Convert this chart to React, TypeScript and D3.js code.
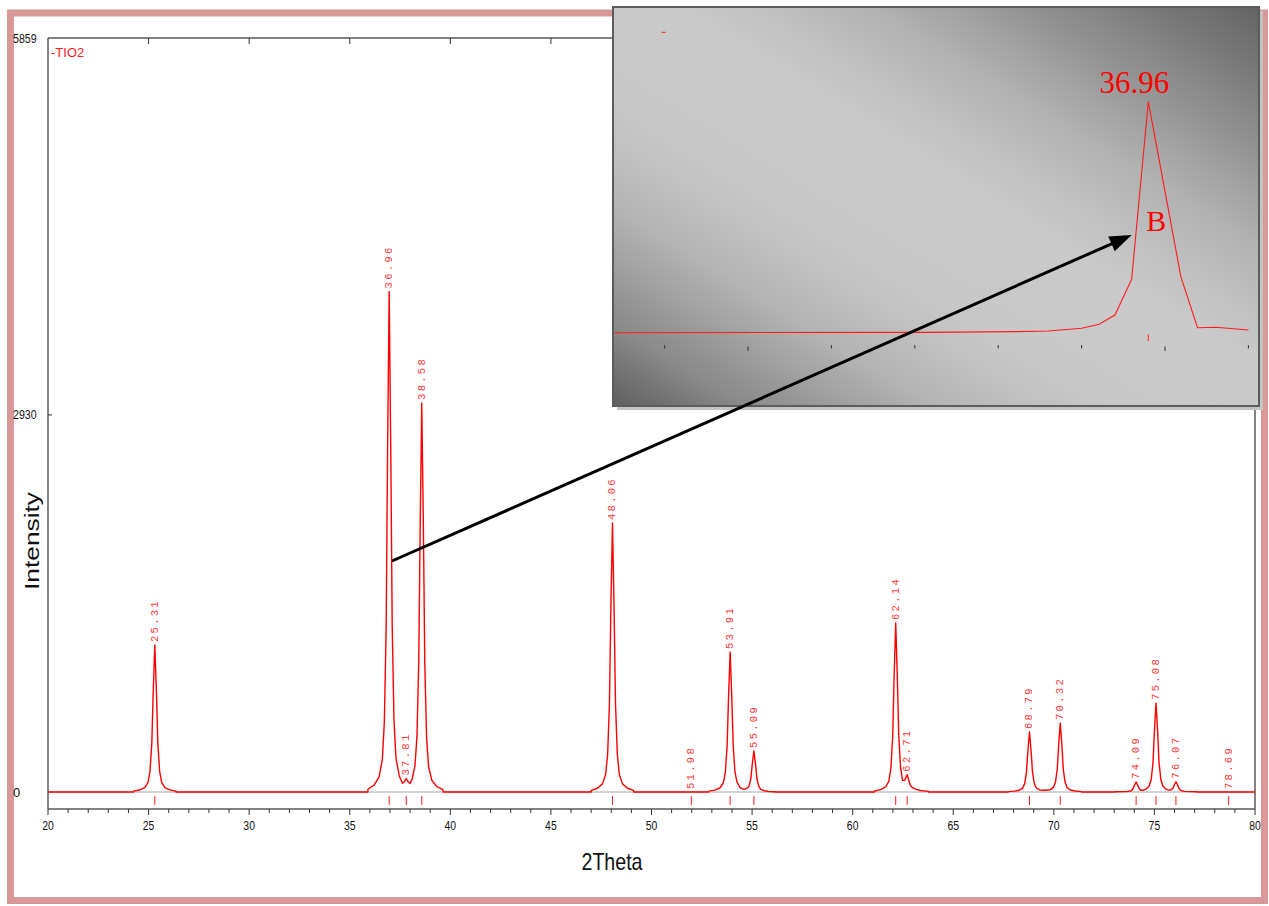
import React from "react";
import * as d3 from "d3";

// ---------- data ----------
const xDomain = [20, 80];
const yDomain = [0, 5859];
const yTickValues = [0, 2930, 5859];
const xTickValues = d3.range(20, 81, 1);

const peakPositions = [25.31, 36.96, 37.81, 38.58, 48.06, 51.98, 53.91, 55.09, 62.14, 62.71, 68.79, 70.32, 74.09, 75.08, 76.07, 78.69];
const peakLabels = ["25.31", "36.96", "37.81", "38.58", "48.06", "51.98", "53.91", "55.09", "62.14", "62.71", "68.79", "70.32", "74.09", "75.08", "76.07", "78.69"];
const peakTops = [1142, 3890, 105, 3023, 2090, 0, 1088, 319, 1313, 135, 466, 536, 78, 692, 80, 0];

// measured profile (2theta, counts), peak groups
const group25: [number, number][] = [[24.25,0],[24.26,7],[24.56,16],[24.81,34],[24.97,74],[25.07,160],[25.16,377],[25.23,777],[25.31,1142],[25.39,777],[25.46,377],[25.55,160],[25.65,74],[25.81,34],[26.06,16],[26.36,7],[26.37,0]];
const group37: [number, number][] = [[35.9,0],[35.91,23],[36.21,54],[36.46,117],[36.62,253],[36.72,545],[36.81,1284],[36.88,2645],[36.96,3890],[37.04,2645],[37.11,1290],[37.2,552],[37.3,262],[37.46,125],[37.62,68],[37.72,80],[37.81,105],[37.9,80],[38.0,66],[38.1,100],[38.24,201],[38.34,428],[38.43,1003],[38.5,2058],[38.58,3023],[38.66,2056],[38.73,998],[38.82,423],[38.92,196],[39.08,91],[39.33,42],[39.63,18],[39.64,0]];
const group48: [number, number][] = [[47.0,0],[47.01,13],[47.31,29],[47.56,63],[47.72,136],[47.82,293],[47.91,690],[47.98,1421],[48.06,2090],[48.14,1421],[48.21,690],[48.3,293],[48.4,136],[48.56,63],[48.81,29],[49.11,13],[49.12,0]];
const group54: [number, number][] = [[52.85,0],[52.86,7],[53.16,15],[53.41,33],[53.57,71],[53.67,152],[53.76,359],[53.83,740],[53.91,1088],[53.99,740],[54.06,361],[54.15,156],[54.25,76],[54.41,32],[54.6,20],[54.75,30],[54.85,45],[54.94,105],[55.01,217],[55.09,319],[55.17,217],[55.24,105],[55.33,45],[55.43,21],[55.59,10],[55.84,4],[56.14,2],[56.15,0]];
const group62: [number, number][] = [[61.08,0],[61.09,8],[61.39,18],[61.64,39],[61.8,85],[61.9,184],[61.99,433],[62.06,893],[62.14,1313],[62.22,893],[62.29,440],[62.38,192],[62.48,90],[62.58,90],[62.65,115],[62.71,135],[62.78,95],[62.86,55],[62.96,35],[63.12,22],[63.37,12],[63.77,5],[63.78,0]];
const group69: [number, number][] = [[67.74,0],[67.75,3],[68.04,7],[68.29,14],[68.45,30],[68.55,65],[68.64,154],[68.71,317],[68.79,466],[68.87,317],[68.94,154],[69.03,65],[69.13,31],[69.29,16],[69.55,14],[69.82,18],[69.98,36],[70.08,75],[70.17,177],[70.24,364],[70.32,536],[70.4,364],[70.47,177],[70.56,75],[70.66,35],[70.82,16],[71.07,8],[71.37,3],[71.38,0]];
const group75: [number, number][] = [[73.03,0],[73.04,2],[73.6,3],[73.85,10],[73.94,27],[74.01,53],[74.09,78],[74.17,53],[74.24,28],[74.33,14],[74.45,14],[74.58,22],[74.74,46],[74.84,97],[74.93,228],[75.0,471],[75.08,692],[75.16,471],[75.23,228],[75.32,97],[75.42,46],[75.58,22],[75.7,15],[75.83,18],[75.92,30],[75.99,55],[76.07,80],[76.15,55],[76.22,28],[76.31,12],[76.5,5],[76.8,3],[77.12,2],[77.13,0]];

// inset (zoom on the 36.96 reflection)
const insetTheta = [36.34, 36.716, 36.819, 36.86, 36.9, 36.921, 36.94, 36.96, 36.98, 37.019, 37.039, 37.061, 37.1];
const insetCounts = [22, 28, 39, 50, 95, 162, 318, 916, 3890, 960, 105, 112, 67];
const insetTicks = [36.4, 36.5, 36.6, 36.7, 36.8, 36.9, 37.0, 37.1];
const insetMajorTicks = [36.5, 37.0];
const insetPeak = 36.98;
const insetPeakLabel = "36.96";
const insetLetter = "B";

// arrow: from main pattern point to inset point
const arrowFrom = [37.1, 1795];
const arrowTo = [36.96, 1658];

const legendText = "-TIO2";
const xTitle = "2Theta";
const yTitle = "Intensity";

export default function App() {
  const W = 1269, H = 906;
  const x = d3.scaleLinear().domain(xDomain).range([48, 1255]);
  const y = d3.scaleLinear().domain(yDomain).range([792, 38]);
  const ix = d3.scaleLinear().domain([36.5, 37.0]).range([748, 1165]);
  const iy = d3.scaleLinear().domain([0, 3890]).range([334, 101.7]);

  const profile: [number, number][] = [
    [20, 0], ...group25, ...group37, ...group48, ...group54, ...group62, ...group69, ...group75, [80, 0],
  ];
  const line = d3.line<[number, number]>().x(d => x(d[0])).y(d => y(d[1]));
  const insetLine = d3.line<number>().x((_, i) => ix(insetTheta[i])).y((_, i) => iy(insetCounts[i]));

  const x0 = x(20), x1 = x(80), yTop = y(5859), yBase = y(0), yAxis = 809;

  // arrow geometry
  const ax0 = x(arrowFrom[0]), ay0 = y(arrowFrom[1]);
  const ax1 = ix(arrowTo[0]), ay1 = iy(arrowTo[1]);
  const len = Math.hypot(ax1 - ax0, ay1 - ay0);
  const ux = (ax1 - ax0) / len, uy = (ay1 - ay0) / len;
  const headL = 22, headW = 8;
  const bx = ax1 - ux * headL, by = ay1 - uy * headL;
  const head = `${ax1},${ay1} ${bx - uy * headW},${by + ux * headW} ${bx + uy * headW},${by - ux * headW}`;

  const insetX = 613, insetY = 7, insetW = 646, insetH = 399;
  const tipX = ix(insetPeak), tipY = iy(3890);

  const sans = "'Liberation Sans', Arial, sans-serif";

  return (
    <svg width={W} height={H} style={{ position: "absolute", left: 0, top: 0, background: "#fff" }}>
      <defs>
        <linearGradient id="insetGrad" x1="0" y1="1" x2="1" y2="0">
          <stop offset="0" stopColor="#5e5e5e" />
          <stop offset="0.1" stopColor="#898989" />
          <stop offset="0.25" stopColor="#b4b4b4" />
          <stop offset="0.38" stopColor="#c8c8c8" />
          <stop offset="0.55" stopColor="#cacaca" />
          <stop offset="0.7" stopColor="#b2b2b2" />
          <stop offset="0.85" stopColor="#8a8a8a" />
          <stop offset="1" stopColor="#636363" />
        </linearGradient>
      </defs>
      <rect x={0} y={0} width={W} height={H} fill="#fff" />
      {/* pink outer frame */}
      <rect x={10.5} y={13} width={1254} height={887.5} fill="none" stroke="#d99797" strokeWidth={7} />

      {/* zero line */}
      <line x1={x0} x2={x1} y1={yBase} y2={yBase} stroke="#a8a8a8" strokeWidth={1.2} />

      {/* plot frame */}
      <g stroke="#5a5a5a" strokeWidth={1.5} fill="none">
        <line x1={x0} x2={x0} y1={yTop} y2={yAxis} />
        <line x1={x1} x2={x1} y1={yTop} y2={yAxis} />
        <line x1={x0} x2={x1} y1={yTop} y2={yTop} />
        <line x1={x0} x2={x1} y1={yAxis} y2={yAxis} />
      </g>

      {/* x ticks */}
      <g stroke="#333" strokeWidth={1}>
        {xTickValues.map(v => (
          <line key={v} x1={x(v)} x2={x(v)} y1={yAxis} y2={yAxis + (v % 5 === 0 ? 6 : 4)} />
        ))}
        {xTickValues.filter(v => v % 5 === 0 && v > 20 && v < 80).map(v => (
          <line key={"t" + v} x1={x(v)} x2={x(v)} y1={yTop} y2={yTop + 6} />
        ))}
        <line x1={x0} x2={x0 + 4} y1={y(2930)} y2={y(2930)} />
      </g>
      <g fontFamily={sans} fontSize={13} fill="#111">
        {xTickValues.filter(v => v % 5 === 0).map(v => (
          <text key={v} x={x(v)} y={yAxis + 21} textAnchor="middle" textLength={String(v).length * 5.8} lengthAdjust="spacingAndGlyphs">{v}</text>
        ))}
        {yTickValues.map(v => (
          <text key={v} x={13} y={y(v) + 4.5} textAnchor="start"
            {...(String(v).length > 1 ? { textLength: String(v).length * 5.9, lengthAdjust: "spacingAndGlyphs" } : {})}>{v}</text>
        ))}
      </g>

      {/* axis titles */}
      <text x={612} y={870} textAnchor="middle" fontFamily={sans} fontSize={24} fill="#111" textLength={61} lengthAdjust="spacingAndGlyphs">{xTitle}</text>
      <text transform={`translate(39,541) rotate(-90)`} textAnchor="middle" fontFamily={sans} fontSize={20} fill="#111" textLength={98} lengthAdjust="spacingAndGlyphs">{yTitle}</text>

      {/* legend */}
      <text x={51} y={56.5} fontFamily={sans} fontSize={13} fill="#ff2020">{legendText}</text>

      {/* reference ticks */}
      <g stroke="#ff2020" strokeWidth={1}>
        {peakPositions.map(p => (
          <line key={p} x1={x(p)} x2={x(p)} y1={yBase + 4} y2={yBase + 13} />
        ))}
      </g>

      {/* pattern */}
      <path d={line(profile) || ""} fill="none" stroke="#ff0000" strokeWidth={1.4} strokeLinejoin="round" />

      {/* peak labels */}
      <g fontFamily="'Liberation Mono', 'DejaVu Sans Mono', monospace" fontSize={10.5} fill="#ff3a3a">
        {peakPositions.map((p, i) => (
          <text key={p} transform={`translate(${x(p)},${y(peakTops[i]) - 3}) rotate(-90)`} textAnchor="start" dominantBaseline="central" style={{ letterSpacing: "2.3px" }}>{peakLabels[i]}</text>
        ))}
      </g>

      {/* inset */}
      <rect x={insetX + 4} y={insetY + 4} width={insetW} height={insetH} fill="#c4c4c4" />
      <rect x={insetX} y={insetY} width={insetW} height={insetH} fill="url(#insetGrad)" stroke="#5c5c5c" strokeWidth={2} />
      <path d={insetLine(insetTheta) || ""} fill="none" stroke="#ff1a1a" strokeWidth={1.1} />
      <g stroke="#333" strokeWidth={1}>
        {insetTicks.map(t => {
          const major = insetMajorTicks.includes(t);
          return <line key={t} x1={ix(t)} x2={ix(t)} y1={major ? 346.5 : 345} y2={major ? 351 : 348.5} />;
        })}
      </g>
      <line x1={ix(insetPeak)} x2={ix(insetPeak)} y1={iy(0) + 0.5} y2={iy(0) + 7} stroke="#ff2020" strokeWidth={1} />
      <line x1={ix(36.4) - 3} x2={ix(36.4) + 1} y1={32.3} y2={32.3} stroke="#ff2020" strokeWidth={1} />
      <text x={tipX - 14} y={tipY - 9} textAnchor="middle" fontFamily="'Liberation Serif', 'Times New Roman', serif" fontSize={31} fill="#ff0000">{insetPeakLabel}</text>
      <text x={tipX + 8} y={iy(1725)} textAnchor="middle" fontFamily="'Liberation Serif', 'Times New Roman', serif" fontSize={30} fill="#ff0000">{insetLetter}</text>

      {/* arrow */}
      <line x1={ax0} y1={ay0} x2={bx + ux * 2} y2={by + uy * 2} stroke="#000" strokeWidth={3} />
      <polygon points={head} fill="#000" />
    </svg>
  );
}
